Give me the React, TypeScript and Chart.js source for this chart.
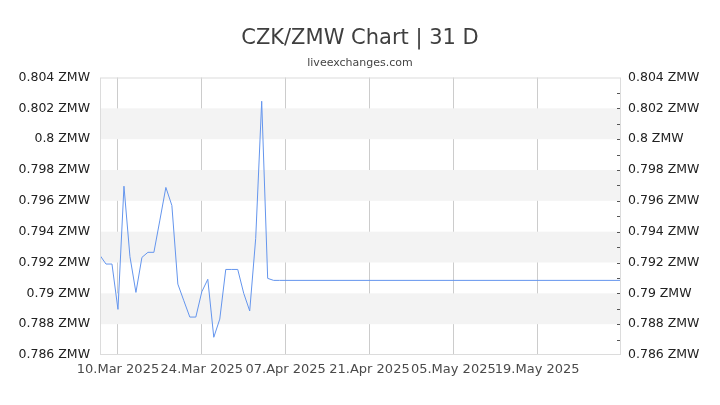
import React, { useEffect, useRef } from "react";
import { Chart, registerables } from "chart.js";

Chart.register(...registerables);

const titleText = "CZK/ZMW Chart | 31 D";
const subtitleText = "liveexchanges.com";

const startDate = "2025-03-07";
const endDate = "2025-06-02";

const dates = [
  "2025-03-07", "2025-03-08", "2025-03-09", "2025-03-10", "2025-03-11",
  "2025-03-12", "2025-03-13", "2025-03-14", "2025-03-15", "2025-03-16",
  "2025-03-17", "2025-03-18", "2025-03-19", "2025-03-20", "2025-03-21",
  "2025-03-22", "2025-03-23", "2025-03-24", "2025-03-25", "2025-03-26",
  "2025-03-27", "2025-03-28", "2025-03-29", "2025-03-30", "2025-03-31",
  "2025-04-01", "2025-04-02", "2025-04-03", "2025-04-04", "2025-04-05",
  "2025-04-06", "2025-06-02",
];

const rates = [
  0.79246, 0.7919, 0.7919, 0.78896, 0.79695,
  0.79238, 0.79006, 0.79233, 0.79266, 0.79266,
  0.79475, 0.79687, 0.7957, 0.7906, 0.78952,
  0.78846, 0.78846, 0.7901, 0.79091, 0.78715,
  0.78833, 0.79155, 0.79155, 0.79155, 0.79,
  0.78886, 0.79356, 0.80246, 0.79097, 0.79084,
  0.79084, 0.79084,
];

const xTickDates = ["2025-03-10", "2025-03-24", "2025-04-07", "2025-04-21", "2025-05-05", "2025-05-19"];
const xTickLabels = ["10.Mar 2025", "24.Mar 2025", "07.Apr 2025", "21.Apr 2025", "05.May 2025", "19.May 2025"];

const yMin = 0.786;
const yMax = 0.804;
const yStep = 0.002;
const yMinorStep = 0.001;
const bandRanges: [number, number][] = [
  [0.788, 0.79],
  [0.792, 0.794],
  [0.796, 0.798],
  [0.8, 0.802],
];

function dayOffset(s: string): number {
  const [y, m, d] = s.split("-").map(Number);
  const [y0, m0, d0] = startDate.split("-").map(Number);
  return (Date.UTC(y, m - 1, d) - Date.UTC(y0, m0 - 1, d0)) / 86400000;
}

function fmtY(v: number): string {
  return parseFloat(Number(v).toFixed(3)).toString() + " ZMW";
}

const decorPlugin = {
  id: "decor",
  beforeDatasetsDraw(chart: any) {
    const { ctx, chartArea } = chart;
    const ys = chart.scales.y;
    ctx.save();
    ctx.fillStyle = "#f3f3f3";
    for (const [a, b] of bandRanges) {
      const y1 = ys.getPixelForValue(b);
      const y2 = ys.getPixelForValue(a);
      ctx.fillRect(chartArea.left, y1, chartArea.right - chartArea.left, y2 - y1);
    }
    ctx.restore();
  },
  afterDraw(chart: any) {
    const { ctx, chartArea } = chart;
    const ys = chart.scales.y;
    ctx.save();
    ctx.strokeStyle = "#dcdcdc";
    ctx.lineWidth = 1;
    ctx.strokeRect(chartArea.left + 0.5, chartArea.top + 0.5, chartArea.right - chartArea.left - 1, chartArea.bottom - chartArea.top - 1);
    ctx.strokeStyle = "#555";
    const n = Math.round((yMax - yMin) / yMinorStep);
    for (let i = 1; i < n; i++) {
      const v = yMin + i * yMinorStep;
      const py = Math.round(ys.getPixelForValue(v)) + 0.5;
      ctx.beginPath();
      ctx.moveTo(chartArea.right - 4, py);
      ctx.lineTo(chartArea.right - 1, py);
      ctx.stroke();
    }
    ctx.restore();
  },
};

export default function App() {
  const ref = useRef<HTMLCanvasElement | null>(null);
  useEffect(() => {
    if (!ref.current) return;
    Chart.defaults.font.family = "'DejaVu Sans', sans-serif";
    const points = dates.map((d, i) => ({ x: dayOffset(d), y: rates[i] }));
    const tickVals = xTickDates.map(dayOffset);
    const chart = new Chart(ref.current, {
      type: "line",
      data: {
        datasets: [
          {
            data: points,
            borderColor: "#6495ed",
            borderWidth: 1,
            pointRadius: 0,
            tension: 0,
            fill: false,
            yAxisID: "y",
          },
        ],
      },
      options: {
        responsive: false,
        animation: false,
        devicePixelRatio: 1,
        layout: { padding: 0 },
        plugins: {
          legend: { display: false },
          tooltip: { enabled: false },
          title: {
            display: true,
            text: titleText,
            color: "#3f3f3f",
            font: { size: 21, weight: "normal", lineHeight: 1.2 },
            padding: { top: 26, bottom: 0 },
          },
          subtitle: {
            display: true,
            text: subtitleText,
            color: "#444",
            font: { size: 11, weight: "normal", lineHeight: 1.2 },
            padding: { top: 5.5, bottom: 7.6 },
          },
        },
        scales: {
          x: {
            type: "linear",
            min: dayOffset(startDate),
            max: dayOffset(endDate),
            afterBuildTicks(scale: any) {
              scale.ticks = tickVals.map((v) => ({ value: v }));
            },
            afterFit(scale: any) {
              scale.height = 50;
            },
            grid: { display: true, color: "#cccccc", drawTicks: false, drawOnChartArea: true },
            border: { display: false },
            ticks: {
              autoSkip: false,
              maxRotation: 0,
              minRotation: 0,
              padding: 7,
              color: "#4a4a4a",
              font: { size: 13 },
              callback(value: any) {
                const idx = tickVals.indexOf(Number(value));
                return idx >= 0 ? xTickLabels[idx] : "";
              },
            },
          },
          y: {
            type: "linear",
            position: "left",
            min: yMin,
            max: yMax,
            afterFit(scale: any) {
              scale.width = 100;
            },
            grid: { display: false, drawTicks: false },
            border: { display: false },
            ticks: {
              stepSize: yStep,
              padding: 10,
              color: "#222",
              font: { size: 12.5 },
              callback: (v: any) => fmtY(v),
            },
          },
          y2: {
            type: "linear",
            position: "right",
            display: true,
            min: yMin,
            max: yMax,
            afterFit(scale: any) {
              scale.width = 99;
            },
            grid: { display: false, drawTicks: false },
            border: { display: false },
            ticks: {
              stepSize: yStep,
              padding: 7,
              color: "#222",
              font: { size: 12.5 },
              callback: (v: any) => fmtY(v),
            },
          },
        },
      },
      plugins: [decorPlugin],
    } as any);
    return () => chart.destroy();
  }, []);
  return (
    <div style={{ position: "absolute", left: 0, top: 0, width: 720, height: 405, background: "#fff" }}>
      <canvas ref={ref} width={720} height={405} style={{ width: 720, height: 405, display: "block" }} />
    </div>
  );
}
